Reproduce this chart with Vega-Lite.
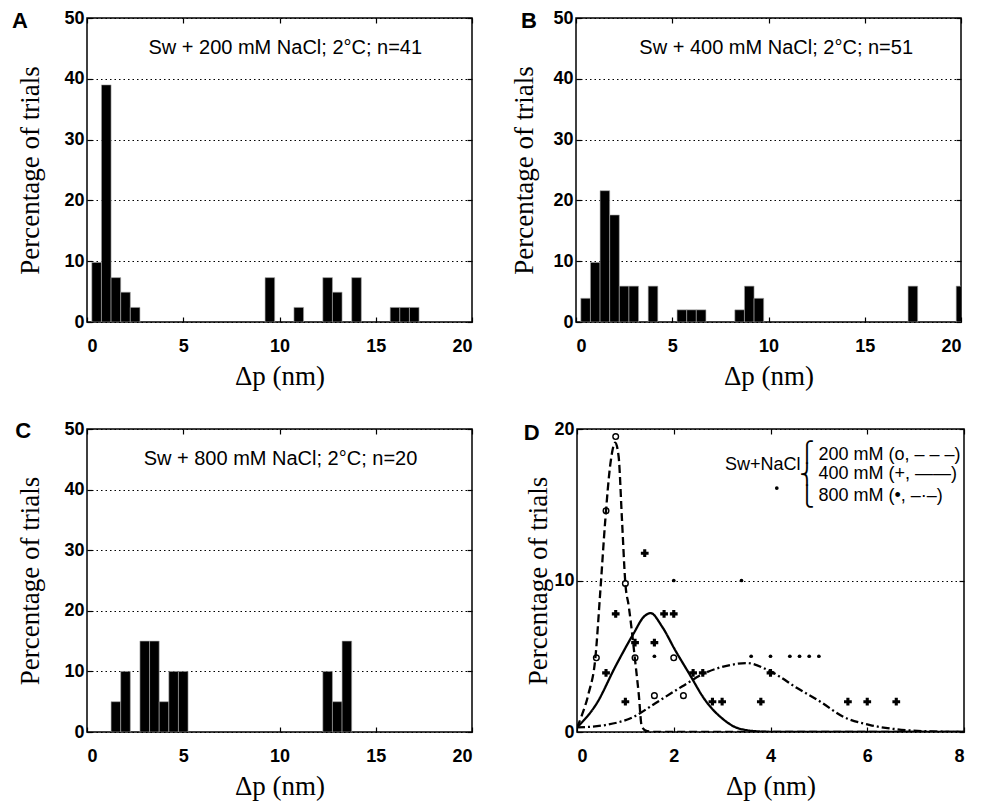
{
  "$schema": "https://vega.github.io/schema/vega-lite/v6.json",
  "background": "white",
  "padding": {"left": 11, "top": 8, "right": 5, "bottom": 5},
  "spacing": 29,
  "config": {
    "view": {"stroke": "black", "strokeWidth": 1.5},
    "axis": {"domain": false, "grid": false, "tickColor": "black", "tickSize": -5, "tickWidth": 1.2,
      "labelFont": "Liberation Sans", "labelFontWeight": "bold", "labelFontSize": 18, "labelColor": "black",
      "titleFont": "Liberation Serif", "titleFontWeight": "normal", "titleFontSize": 27, "titleColor": "black",
      "gridColor": "black", "gridDash": [1.5, 3], "gridWidth": 1.2, "gridOpacity": 1, "labelPadding": 8},
    "axisX": {"labelPadding": 20, "titlePadding": 8},
    "axisY": {"titlePadding": 19}
  },
  "datasets": {
    "A": [
      {"lo": 0.25, "hi": 0.75, "pct": 9.8}, {"lo": 0.75, "hi": 1.25, "pct": 39.0},
      {"lo": 1.25, "hi": 1.75, "pct": 7.3}, {"lo": 1.75, "hi": 2.25, "pct": 4.9},
      {"lo": 2.25, "hi": 2.75, "pct": 2.4}, {"lo": 9.25, "hi": 9.75, "pct": 7.3},
      {"lo": 10.75, "hi": 11.25, "pct": 2.4}, {"lo": 12.25, "hi": 12.75, "pct": 7.3},
      {"lo": 12.75, "hi": 13.25, "pct": 4.9}, {"lo": 13.75, "hi": 14.25, "pct": 7.3},
      {"lo": 15.75, "hi": 16.25, "pct": 2.4}, {"lo": 16.25, "hi": 16.75, "pct": 2.4},
      {"lo": 16.75, "hi": 17.25, "pct": 2.4}
    ],
    "B": [
      {"lo": 0.25, "hi": 0.75, "pct": 3.9}, {"lo": 0.75, "hi": 1.25, "pct": 9.8},
      {"lo": 1.25, "hi": 1.75, "pct": 21.6}, {"lo": 1.75, "hi": 2.25, "pct": 17.6},
      {"lo": 2.25, "hi": 2.75, "pct": 5.9}, {"lo": 2.75, "hi": 3.25, "pct": 5.9},
      {"lo": 3.75, "hi": 4.25, "pct": 5.9}, {"lo": 5.25, "hi": 5.75, "pct": 2.0},
      {"lo": 5.75, "hi": 6.25, "pct": 2.0}, {"lo": 6.25, "hi": 6.75, "pct": 2.0},
      {"lo": 8.25, "hi": 8.75, "pct": 2.0}, {"lo": 8.75, "hi": 9.25, "pct": 5.9},
      {"lo": 9.25, "hi": 9.75, "pct": 3.9}, {"lo": 17.25, "hi": 17.75, "pct": 5.9},
      {"lo": 19.75, "hi": 20.25, "pct": 5.9}
    ],
    "C": [
      {"lo": 1.25, "hi": 1.75, "pct": 5}, {"lo": 1.75, "hi": 2.25, "pct": 10},
      {"lo": 2.75, "hi": 3.25, "pct": 15}, {"lo": 3.25, "hi": 3.75, "pct": 15},
      {"lo": 3.75, "hi": 4.25, "pct": 5}, {"lo": 4.25, "hi": 4.75, "pct": 10},
      {"lo": 4.75, "hi": 5.25, "pct": 10}, {"lo": 12.25, "hi": 12.75, "pct": 10},
      {"lo": 12.75, "hi": 13.25, "pct": 5}, {"lo": 13.25, "hi": 13.75, "pct": 15}
    ],
    "Dcurves": [
      {"series": "200 mM", "dp": 0, "pct": 0.3}, {"series": "200 mM", "dp": 0.1, "pct": 1.1},
      {"series": "200 mM", "dp": 0.24, "pct": 2.55}, {"series": "200 mM", "dp": 0.38, "pct": 4.9},
      {"series": "200 mM", "dp": 0.48, "pct": 9.2}, {"series": "200 mM", "dp": 0.585, "pct": 14.0},
      {"series": "200 mM", "dp": 0.69, "pct": 17.7}, {"series": "200 mM", "dp": 0.79, "pct": 19.1},
      {"series": "200 mM", "dp": 0.86, "pct": 18.2}, {"series": "200 mM", "dp": 0.93, "pct": 14.0},
      {"series": "200 mM", "dp": 1.0, "pct": 9.8}, {"series": "200 mM", "dp": 1.07, "pct": 8.3},
      {"series": "200 mM", "dp": 1.14, "pct": 6.5}, {"series": "200 mM", "dp": 1.2, "pct": 4.75},
      {"series": "200 mM", "dp": 1.275, "pct": 2.55}, {"series": "200 mM", "dp": 1.34, "pct": 0.35},
      {"series": "200 mM", "dp": 1.45, "pct": 0.05}, {"series": "200 mM", "dp": 1.7, "pct": 0},
      {"series": "200 mM", "dp": 8, "pct": 0},
      {"series": "400 mM", "dp": 0, "pct": 0.3}, {"series": "400 mM", "dp": 0.41, "pct": 1.9},
      {"series": "400 mM", "dp": 0.79, "pct": 4.3}, {"series": "400 mM", "dp": 1.17, "pct": 6.5},
      {"series": "400 mM", "dp": 1.38, "pct": 7.6}, {"series": "400 mM", "dp": 1.52, "pct": 7.85},
      {"series": "400 mM", "dp": 1.76, "pct": 6.95}, {"series": "400 mM", "dp": 2.03, "pct": 5.4},
      {"series": "400 mM", "dp": 2.31, "pct": 3.9}, {"series": "400 mM", "dp": 2.65, "pct": 2.1},
      {"series": "400 mM", "dp": 3.0, "pct": 0.9}, {"series": "400 mM", "dp": 3.34, "pct": 0.24},
      {"series": "400 mM", "dp": 3.8, "pct": 0.03}, {"series": "400 mM", "dp": 4.2, "pct": 0},
      {"series": "400 mM", "dp": 8, "pct": 0},
      {"series": "800 mM", "dp": 0, "pct": 0.3}, {"series": "800 mM", "dp": 0.585, "pct": 0.46},
      {"series": "800 mM", "dp": 1.17, "pct": 1.0}, {"series": "800 mM", "dp": 1.62, "pct": 1.9},
      {"series": "800 mM", "dp": 2.17, "pct": 3.0}, {"series": "800 mM", "dp": 2.65, "pct": 3.9},
      {"series": "800 mM", "dp": 3.14, "pct": 4.4}, {"series": "800 mM", "dp": 3.5, "pct": 4.55},
      {"series": "800 mM", "dp": 4.0, "pct": 4.0}, {"series": "800 mM", "dp": 4.55, "pct": 2.9},
      {"series": "800 mM", "dp": 5.03, "pct": 2.0}, {"series": "800 mM", "dp": 5.51, "pct": 1.0},
      {"series": "800 mM", "dp": 6.06, "pct": 0.46}, {"series": "800 mM", "dp": 6.61, "pct": 0.18},
      {"series": "800 mM", "dp": 7.2, "pct": 0.05}, {"series": "800 mM", "dp": 8, "pct": 0}
    ],
    "D200": [
      {"dp": 0.4, "pct": 4.9}, {"dp": 0.6, "pct": 14.6}, {"dp": 0.8, "pct": 19.5},
      {"dp": 1.0, "pct": 9.8}, {"dp": 1.2, "pct": 4.9}, {"dp": 1.6, "pct": 2.4},
      {"dp": 2.0, "pct": 4.9}, {"dp": 2.2, "pct": 2.4}
    ],
    "D400": [
      {"dp": 0.6, "pct": 3.9}, {"dp": 0.8, "pct": 7.8}, {"dp": 1.0, "pct": 2.0},
      {"dp": 1.2, "pct": 5.9}, {"dp": 1.4, "pct": 11.8}, {"dp": 1.6, "pct": 5.9},
      {"dp": 1.8, "pct": 7.8}, {"dp": 2.0, "pct": 7.8}, {"dp": 2.4, "pct": 3.9},
      {"dp": 2.6, "pct": 3.9}, {"dp": 2.8, "pct": 2.0}, {"dp": 3.0, "pct": 2.0},
      {"dp": 3.8, "pct": 2.0}, {"dp": 4.0, "pct": 3.9}, {"dp": 5.6, "pct": 2.0},
      {"dp": 6.0, "pct": 2.0}, {"dp": 6.6, "pct": 2.0}
    ],
    "D800": [
      {"dp": 1.6, "pct": 5}, {"dp": 2.0, "pct": 10}, {"dp": 3.4, "pct": 10},
      {"dp": 3.6, "pct": 5}, {"dp": 4.0, "pct": 5}, {"dp": 4.4, "pct": 5},
      {"dp": 4.6, "pct": 5}, {"dp": 4.8, "pct": 5}, {"dp": 5.0, "pct": 5},
      {"dp": 4.13, "pct": 16.1}
    ]
  },
  "vconcat": [
    {
      "spacing": 36,
      "hconcat": [
        {
          "width": 385, "height": 304,
          "resolve": {"axis": {"x": "independent", "y": "independent"}},
          "layer": [
            {
              "data": {"name": "A"},
              "mark": {"type": "bar", "color": "black", "stroke": "#aaaaaa", "strokeWidth": 0.6, "clip": true},
              "encoding": {
                "x": {"field": "lo", "type": "quantitative", "scale": {"domain": [0, 20], "nice": false},
                  "axis": {"title": "Δp (nm)", "values": [0, 5, 10, 15, 20]}},
                "x2": {"field": "hi"},
                "y": {"field": "pct", "type": "quantitative", "scale": {"domain": [0, 50], "nice": false},
                  "axis": {"title": "Percentage of trials", "values": [0, 10, 20, 30, 40, 50], "grid": true}},
                "y2": {"datum": 0}
              }
            },
            {
              "data": {"values": [{"label": "A", "dp": -3.9, "pct": 48.4}]},
              "mark": {"type": "text", "font": "Liberation Sans", "fontSize": 22, "fontWeight": "bold", "align": "left", "baseline": "alphabetic", "color": "black"},
              "encoding": {
                "text": {"field": "label"},
                "x": {"field": "dp", "type": "quantitative", "scale": {"domain": [0, 20], "nice": false}, "axis": null},
                "y": {"field": "pct", "type": "quantitative", "scale": {"domain": [0, 50], "nice": false}, "axis": null}
              }
            },
            {
              "data": {"values": [{"label": "Sw + 200 mM NaCl; 2°C; n=41", "dp": 10.3, "pct": 45}]},
              "mark": {"type": "text", "font": "Liberation Sans", "fontSize": 20, "align": "center", "baseline": "middle", "color": "black"},
              "encoding": {
                "text": {"field": "label"},
                "x": {"field": "dp", "type": "quantitative", "scale": {"domain": [0, 20], "nice": false},
                  "axis": {"orient": "top", "labels": false, "title": null, "values": [0, 5, 10, 15, 20]}},
                "y": {"field": "pct", "type": "quantitative", "scale": {"domain": [0, 50], "nice": false},
                  "axis": {"orient": "right", "labels": false, "title": null, "values": [0, 10, 20, 30, 40, 50]}}
              }
            }
          ]
        },
        {
          "width": 385, "height": 304,
          "resolve": {"axis": {"x": "independent", "y": "independent"}},
          "layer": [
            {
              "data": {"name": "B"},
              "mark": {"type": "bar", "color": "black", "stroke": "#aaaaaa", "strokeWidth": 0.6, "clip": true},
              "encoding": {
                "x": {"field": "lo", "type": "quantitative", "scale": {"domain": [0, 20], "nice": false},
                  "axis": {"title": "Δp (nm)", "values": [0, 5, 10, 15, 20]}},
                "x2": {"field": "hi"},
                "y": {"field": "pct", "type": "quantitative", "scale": {"domain": [0, 50], "nice": false},
                  "axis": {"title": "Percentage of trials", "values": [0, 10, 20, 30, 40, 50], "grid": true, "titlePadding": 14}},
                "y2": {"datum": 0}
              }
            },
            {
              "data": {"values": [{"label": "B", "dp": -2.86, "pct": 48.4}]},
              "mark": {"type": "text", "font": "Liberation Sans", "fontSize": 22, "fontWeight": "bold", "align": "left", "baseline": "alphabetic", "color": "black"},
              "encoding": {
                "text": {"field": "label"},
                "x": {"field": "dp", "type": "quantitative", "scale": {"domain": [0, 20], "nice": false}, "axis": null},
                "y": {"field": "pct", "type": "quantitative", "scale": {"domain": [0, 50], "nice": false}, "axis": null}
              }
            },
            {
              "data": {"values": [{"label": "Sw + 400 mM NaCl; 2°C; n=51", "dp": 10.4, "pct": 45}]},
              "mark": {"type": "text", "font": "Liberation Sans", "fontSize": 20, "align": "center", "baseline": "middle", "color": "black"},
              "encoding": {
                "text": {"field": "label"},
                "x": {"field": "dp", "type": "quantitative", "scale": {"domain": [0, 20], "nice": false},
                  "axis": {"orient": "top", "labels": false, "title": null, "values": [0, 5, 10, 15, 20]}},
                "y": {"field": "pct", "type": "quantitative", "scale": {"domain": [0, 50], "nice": false},
                  "axis": {"orient": "right", "labels": false, "title": null, "values": [0, 10, 20, 30, 40, 50]}}
              }
            }
          ]
        }
      ]
    },
    {
      "spacing": 49,
      "hconcat": [
        {
          "width": 385, "height": 303,
          "resolve": {"axis": {"x": "independent", "y": "independent"}},
          "layer": [
            {
              "data": {"name": "C"},
              "mark": {"type": "bar", "color": "black", "stroke": "#aaaaaa", "strokeWidth": 0.6, "clip": true},
              "encoding": {
                "x": {"field": "lo", "type": "quantitative", "scale": {"domain": [0, 20], "nice": false},
                  "axis": {"title": "Δp (nm)", "values": [0, 5, 10, 15, 20]}},
                "x2": {"field": "hi"},
                "y": {"field": "pct", "type": "quantitative", "scale": {"domain": [0, 50], "nice": false},
                  "axis": {"title": "Percentage of trials", "values": [0, 10, 20, 30, 40, 50], "grid": true}},
                "y2": {"datum": 0}
              }
            },
            {
              "data": {"values": [{"label": "C", "dp": -3.73, "pct": 48.5}]},
              "mark": {"type": "text", "font": "Liberation Sans", "fontSize": 22, "fontWeight": "bold", "align": "left", "baseline": "alphabetic", "color": "black"},
              "encoding": {
                "text": {"field": "label"},
                "x": {"field": "dp", "type": "quantitative", "scale": {"domain": [0, 20], "nice": false}, "axis": null},
                "y": {"field": "pct", "type": "quantitative", "scale": {"domain": [0, 50], "nice": false}, "axis": null}
              }
            },
            {
              "data": {"values": [{"label": "Sw + 800 mM NaCl; 2°C; n=20", "dp": 10.05, "pct": 45}]},
              "mark": {"type": "text", "font": "Liberation Sans", "fontSize": 20, "align": "center", "baseline": "middle", "color": "black"},
              "encoding": {
                "text": {"field": "label"},
                "x": {"field": "dp", "type": "quantitative", "scale": {"domain": [0, 20], "nice": false},
                  "axis": {"orient": "top", "labels": false, "title": null, "values": [0, 5, 10, 15, 20]}},
                "y": {"field": "pct", "type": "quantitative", "scale": {"domain": [0, 50], "nice": false},
                  "axis": {"orient": "right", "labels": false, "title": null, "values": [0, 10, 20, 30, 40, 50]}}
              }
            }
          ]
        },
        {
          "width": 387, "height": 303,
          "resolve": {"axis": {"x": "independent", "y": "independent"}},
          "layer": [
            {
              "data": {"name": "Dcurves"},
              "mark": {"type": "line", "color": "black", "strokeWidth": 2.3, "interpolate": "monotone", "clip": true},
              "encoding": {
                "x": {"field": "dp", "type": "quantitative", "scale": {"domain": [0, 8], "nice": false},
                  "axis": {"title": "Δp (nm)", "values": [0, 2, 4, 6, 8]}},
                "y": {"field": "pct", "type": "quantitative", "scale": {"domain": [0, 20], "nice": false},
                  "axis": {"title": "Percentage of trials", "values": [0, 10, 20], "grid": true, "titlePadding": 1}},
                "strokeDash": {"field": "series", "type": "nominal", "legend": null,
                  "scale": {"domain": ["200 mM", "400 mM", "800 mM"], "range": [[8, 4], [1, 0], [8, 3, 2, 3]]}}
              }
            },
            {
              "data": {"name": "D200"},
              "mark": {"type": "point", "shape": "circle", "filled": false, "color": "black", "size": 32, "strokeWidth": 1.4, "opacity": 1},
              "encoding": {
                "x": {"field": "dp", "type": "quantitative", "scale": {"domain": [0, 8], "nice": false}, "axis": null},
                "y": {"field": "pct", "type": "quantitative", "scale": {"domain": [0, 20], "nice": false}, "axis": null}
              }
            },
            {
              "data": {"name": "D400"},
              "mark": {"type": "point", "shape": "cross", "filled": true, "color": "black", "size": 60, "opacity": 1},
              "encoding": {
                "x": {"field": "dp", "type": "quantitative", "scale": {"domain": [0, 8], "nice": false}, "axis": null},
                "y": {"field": "pct", "type": "quantitative", "scale": {"domain": [0, 20], "nice": false}, "axis": null}
              }
            },
            {
              "data": {"name": "D800"},
              "mark": {"type": "point", "shape": "circle", "filled": true, "color": "black", "size": 14, "opacity": 1},
              "encoding": {
                "x": {"field": "dp", "type": "quantitative", "scale": {"domain": [0, 8], "nice": false}, "axis": null},
                "y": {"field": "pct", "type": "quantitative", "scale": {"domain": [0, 20], "nice": false}, "axis": null}
              }
            },
            {
              "data": {"values": [{"label": "D", "dp": -1.1, "pct": 19.27}]},
              "mark": {"type": "text", "font": "Liberation Sans", "fontSize": 22, "fontWeight": "bold", "align": "left", "baseline": "alphabetic", "color": "black"},
              "encoding": {
                "text": {"field": "label"},
                "x": {"field": "dp", "type": "quantitative", "scale": {"domain": [0, 8], "nice": false}, "axis": null},
                "y": {"field": "pct", "type": "quantitative", "scale": {"domain": [0, 20], "nice": false}, "axis": null}
              }
            },
            {
              "data": {"values": [{"label": "Sw+NaCl", "dp": 4.62, "pct": 17.6}]},
              "mark": {"type": "text", "font": "Liberation Sans", "fontSize": 18, "align": "right", "baseline": "middle", "color": "black"},
              "encoding": {
                "text": {"field": "label"},
                "x": {"field": "dp", "type": "quantitative", "scale": {"domain": [0, 8], "nice": false}, "axis": null},
                "y": {"field": "pct", "type": "quantitative", "scale": {"domain": [0, 20], "nice": false}, "axis": null}
              }
            },
            {
              "data": {"values": [
                {"label": "⎧", "dp": 4.75, "pct": 18.4},
                {"label": "⎨", "dp": 4.75, "pct": 16.95},
                {"label": "⎩", "dp": 4.75, "pct": 15.5}
              ]},
              "mark": {"type": "text", "font": "DejaVu Sans", "fontSize": 20, "align": "center", "baseline": "middle", "color": "black"},
              "encoding": {
                "text": {"field": "label"},
                "x": {"field": "dp", "type": "quantitative", "scale": {"domain": [0, 8], "nice": false}, "axis": null},
                "y": {"field": "pct", "type": "quantitative", "scale": {"domain": [0, 20], "nice": false}, "axis": null}
              }
            },
            {
              "data": {"values": [
                {"label": "200 mM (o, – – –)", "dp": 4.99, "pct": 18.3},
                {"label": "400 mM (+, ——)", "dp": 4.99, "pct": 17.0},
                {"label": "800 mM (•, –·–)", "dp": 4.99, "pct": 15.6}
              ]},
              "mark": {"type": "text", "font": "Liberation Sans", "fontSize": 18, "align": "left", "baseline": "middle", "color": "black"},
              "encoding": {
                "text": {"field": "label"},
                "x": {"field": "dp", "type": "quantitative", "scale": {"domain": [0, 8], "nice": false},
                  "axis": {"orient": "top", "labels": false, "title": null, "values": [0, 2, 4, 6, 8]}},
                "y": {"field": "pct", "type": "quantitative", "scale": {"domain": [0, 20], "nice": false},
                  "axis": {"orient": "right", "labels": false, "title": null, "values": [0, 10, 20]}}
              }
            }
          ]
        }
      ]
    }
  ]
}
